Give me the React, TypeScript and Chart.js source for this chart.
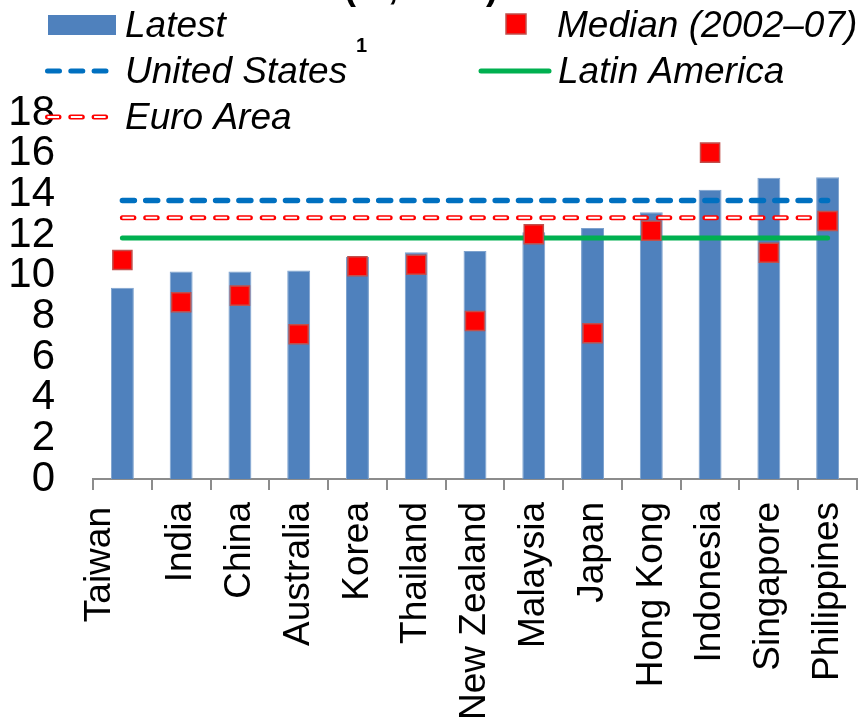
import React, { useEffect, useRef } from "react";
import { Chart, registerables } from "chart.js";

Chart.register(...registerables);

const categories = [
  "Taiwan", "India", "China", "Australia", "Korea", "Thailand", "New Zealand",
  "Malaysia", "Japan", "Hong Kong", "Indonesia", "Singapore", "Philippines",
];
const latest = [9.41, 10.2, 10.2, 10.25, 10.92, 11.15, 11.21, 12.13, 12.35, 13.12, 14.23, 14.81, 14.84];
const median = [10.77, 8.69, 9.02, 7.12, 10.46, 10.54, 7.77, 12.04, 7.17, 12.21, 16.05, 11.13, 12.69];
const unitedStatesLevel = 13.7;
const euroAreaLevel = 12.85;
const latinAmericaLevel = 11.85;
const yMin = 0;
const yMax = 18;
const yStep = 2;
const titleText = "(%, GDP)";
const footnoteMark = "1";

const FONT = '"Liberation Sans", Arial, sans-serif';
const BAR_BLUE = "#4F81BD";
const US_BLUE = "#0070C0";
const LA_GREEN = "#00B050";
const RED = "#FF0000";

const DASH = [12, 11.3];
const EURO_DASH = [11.5, 11.8];

function drawDash(ctx: CanvasRenderingContext2D, x1: number, x2: number, y: number, color: string, width: number, dash: number[], cap: CanvasLineCap) {
  ctx.save();
  ctx.strokeStyle = color;
  ctx.lineWidth = width;
  ctx.lineCap = cap;
  ctx.setLineDash(dash);
  ctx.beginPath();
  ctx.moveTo(x1, y);
  ctx.lineTo(x2, y);
  ctx.stroke();
  ctx.restore();
}

const legendPlugin = {
  id: "customLegend",
  afterDraw(chart: any) {
    const ctx: CanvasRenderingContext2D = chart.ctx;
    const ds = chart.data.datasets;
    const byLabel = (l: string) => ds.find((d: any) => d.label === l);
    ctx.save();
    // title fragment (mostly above the visible area)
    ctx.font = `bold 36px ${FONT}`;
    ctx.fillStyle = "#000";
    ctx.textAlign = "center";
    ctx.textBaseline = "alphabetic";
    ctx.fillText(titleText, 421, -1);

    ctx.textAlign = "left";
    const legendFont = `italic 37px ${FONT}`;
    ctx.font = legendFont;
    // Latest
    const lt = byLabel("Latest");
    ctx.fillStyle = lt.backgroundColor;
    ctx.fillRect(48, 15, 68, 20);
    ctx.fillStyle = "#000";
    ctx.fillText(lt.label, 125, 37);
    // Median
    const md = byLabel("Median (2002–07)");
    ctx.fillStyle = md.backgroundColor;
    ctx.strokeStyle = md.borderColor;
    ctx.lineWidth = 1.5;
    ctx.fillRect(506, 14, 20, 20);
    ctx.strokeRect(506, 14, 20, 20);
    ctx.fillStyle = "#000";
    ctx.fillText(md.label, 557, 37);
    // United States
    const us = byLabel("United States");
    drawDash(ctx, 47.5, 106, 71, us.borderColor, 5, DASH, "round");
    ctx.fillStyle = "#000";
    ctx.fillText(us.label, 125, 83);
    ctx.font = `bold 20px ${FONT}`;
    ctx.fillText(footnoteMark, 356, 52);
    ctx.font = legendFont;
    // Latin America
    const la = byLabel("Latin America");
    drawDash(ctx, 481, 549, 71, la.borderColor, 5, [], "round");
    ctx.fillStyle = "#000";
    ctx.fillText(la.label, 558, 83);
    // Euro Area
    const ea = byLabel("Euro Area");
    drawDash(ctx, 47.5, 106, 117, ea.borderColor, 5, EURO_DASH, "round");
    drawDash(ctx, 47.5, 106, 117, "#FFFFFF", 2, EURO_DASH, "butt");
    ctx.fillStyle = "#000";
    ctx.fillText(ea.label, 125, 129);
    ctx.restore();
  },
};

const shiftFirstLabel = {
  id: "shiftFirstLabel",
  beforeDraw(chart: any) {
    const s = chart.scales?.x;
    if (!s || typeof s.getLabelItems !== "function") return;
    const items = s.getLabelItems(chart.chartArea);
    const it = items && items[0];
    if (it && !it._shifted && it.options && it.options.translation) {
      const [tx, ty] = it.options.translation;
      it.options.translation = [tx - 23, ty + 5];
      it._shifted = true;
    }
  },
};

export default function App() {
  const ref = useRef<HTMLCanvasElement | null>(null);
  useEffect(() => {
    if (!ref.current) return;
    Chart.defaults.font.family = FONT;
    const chart = new Chart(ref.current, {
      type: "bar",
      data: {
        labels: categories,
        datasets: [
          {
            type: "line",
            label: "Median (2002–07)",
            data: median,
            showLine: false,
            pointStyle: "rect",
            pointRadius: 13.5,
            pointHoverRadius: 13.5,
            backgroundColor: RED,
            borderColor: "#C0504D",
            pointBorderWidth: 1.5,
            order: 0,
          } as any,
          {
            type: "line",
            label: "Euro Area inner",
            data: categories.map(() => euroAreaLevel),
            borderColor: "#FFFFFF",
            borderWidth: 2,
            borderDash: EURO_DASH,
            borderCapStyle: "butt",
            pointRadius: 0,
            fill: false,
            order: 1,
          } as any,
          {
            type: "line",
            label: "Euro Area",
            data: categories.map(() => euroAreaLevel),
            borderColor: RED,
            borderWidth: 5,
            borderDash: EURO_DASH,
            borderCapStyle: "round",
            pointRadius: 0,
            fill: false,
            order: 2,
          } as any,
          {
            type: "line",
            label: "United States",
            data: categories.map(() => unitedStatesLevel),
            borderColor: US_BLUE,
            borderWidth: 5.5,
            borderDash: DASH,
            borderCapStyle: "round",
            pointRadius: 0,
            fill: false,
            order: 3,
          } as any,
          {
            type: "line",
            label: "Latin America",
            data: categories.map(() => latinAmericaLevel),
            borderColor: LA_GREEN,
            borderWidth: 5,
            borderCapStyle: "round",
            pointRadius: 0,
            fill: false,
            order: 4,
          } as any,
          {
            type: "bar",
            label: "Latest",
            data: latest,
            backgroundColor: BAR_BLUE,
            borderColor: "#7DA2CE",
            borderWidth: 1,
            barPercentage: 0.39,
            categoryPercentage: 1,
            order: 5,
          } as any,
        ],
      },
      options: {
        animation: false,
        responsive: false,
        layout: { autoPadding: false, padding: { top: 113, right: 4, bottom: 0, left: 0 } },
        plugins: {
          legend: { display: false },
          tooltip: { enabled: false },
          title: { display: false },
        },
        scales: {
          x: {
            offset: true,
            grid: {
              display: true,
              offset: true,
              drawOnChartArea: false,
              drawTicks: true,
              tickLength: 11,
              color: "#8C8C8C",
              lineWidth: 2,
            },
            border: { display: true, color: "#8C8C8C", width: 2 },
            ticks: {
              autoSkip: false,
              minRotation: 90,
              maxRotation: 90,
              padding: 12,
              color: "#000",
              font: { size: 37, family: FONT },
            },
            afterFit: (scale: any) => {
              scale.height = 239;
              scale.paddingLeft = 0;
              scale.paddingRight = 0;
            },
          },
          y: {
            min: yMin,
            max: yMax,
            grid: { display: false, drawTicks: false },
            border: { display: false },
            ticks: {
              stepSize: yStep,
              autoSkip: false,
              padding: 38,
              color: "#000",
              font: { size: 42, family: FONT },
            },
            afterFit: (scale: any) => {
              scale.width = 93;
              scale.paddingTop = 0;
              scale.paddingBottom = 0;
            },
          },
        },
      },
      plugins: [shiftFirstLabel, legendPlugin],
    });
    return () => chart.destroy();
  }, []);
  return (
    <div style={{ position: "absolute", left: 0, top: 0, width: 861, height: 718, background: "#fff" }}>
      <canvas ref={ref} width={861} height={718} style={{ display: "block" }} />
    </div>
  );
}
